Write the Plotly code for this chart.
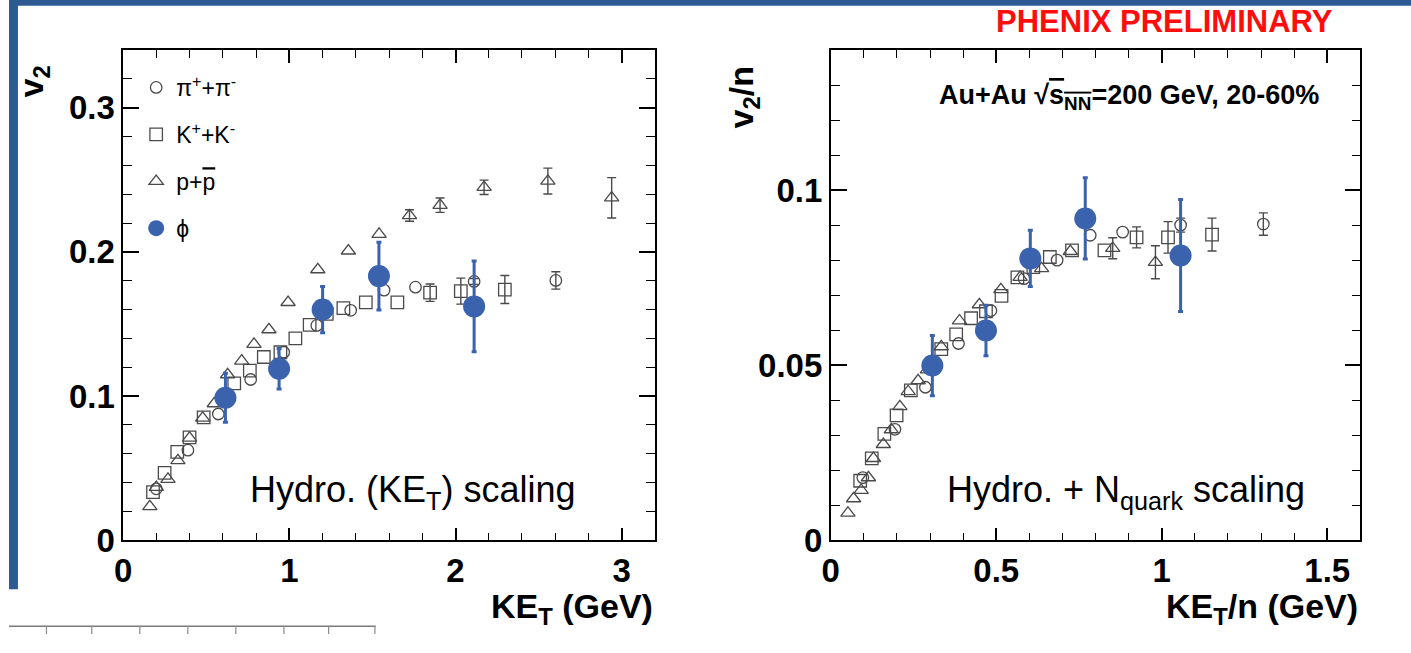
import plotly.graph_objects as go

# ---------------- Left panel data: v2 vs KE_T (GeV) ----------------
pi_ket = [0.199, 0.389, 0.572, 0.767, 0.966, 1.165, 1.369, 1.57, 1.759, 2.112, 2.604]
pi_v2 = [0.0357, 0.0625, 0.0876, 0.1115, 0.1304, 0.149, 0.1595, 0.1735, 0.1755, 0.1795, 0.1802]
pi_err = [0, 0, 0, 0, 0, 0, 0, 0, 0, 0.002, 0.006]

k_ket = [0.179, 0.249, 0.325, 0.399, 0.484, 0.668, 0.762, 0.846, 0.946, 1.036, 1.122,
         1.225, 1.325, 1.46, 1.65, 1.847, 2.032, 2.297]
k_v2 = [0.0334, 0.0468, 0.0613, 0.0714, 0.0852, 0.1088, 0.1177, 0.1271, 0.1304, 0.14,
        0.1494, 0.157, 0.161, 0.165, 0.165, 0.1717, 0.1728, 0.1739]
k_err = [0] * 15 + [0.006, 0.009, 0.0097]

p_ket = [0.16, 0.199, 0.269, 0.329, 0.399, 0.478, 0.548, 0.628, 0.713, 0.787, 0.877,
         0.992, 1.171, 1.355, 1.54, 1.723, 1.907, 2.172, 2.556, 2.94]
p_v2 = [0.0234, 0.0368, 0.0424, 0.0553, 0.0709, 0.0848, 0.0948, 0.1149, 0.1244, 0.136,
        0.1461, 0.165, 0.1877, 0.2007, 0.2123, 0.2252, 0.2324, 0.2448, 0.2491, 0.2375]
p_err = [0] * 15 + [0.004, 0.005, 0.005, 0.009, 0.014]

phi_ket = [0.615, 0.938, 1.20, 1.539, 2.112]
phi_v2 = [0.0988, 0.119, 0.160, 0.1832, 0.1622]
phi_err = [0.017, 0.014, 0.016, 0.0235, 0.0315]

# ---------------- Right panel data: v2/n vs KE_T/n (GeV) ----------------
pi_ketn = [0.097, 0.194, 0.286, 0.386, 0.484, 0.584, 0.684, 0.784, 0.882, 1.057, 1.307]
pi_v2n = [0.0179, 0.0317, 0.0437, 0.0562, 0.0656, 0.0747, 0.080, 0.0871, 0.088, 0.090, 0.0903]
pi_errn = [0] * 9 + [0.002, 0.0032]

k_ketn = [0.089, 0.124, 0.162, 0.199, 0.242, 0.334, 0.379, 0.424, 0.469, 0.516, 0.564,
          0.612, 0.662, 0.729, 0.827, 0.924, 1.019, 1.152]
k_v2n = [0.017, 0.0234, 0.0304, 0.0357, 0.0428, 0.0546, 0.0588, 0.0634, 0.0654, 0.0698,
         0.0751, 0.078, 0.0809, 0.0828, 0.0828, 0.0865, 0.0865, 0.0873]
k_errn = [0] * 15 + [0.003, 0.0045, 0.0047]

p_ketn = [0.052, 0.069, 0.092, 0.114, 0.129, 0.159, 0.183, 0.209, 0.234, 0.264, 0.292,
          0.334, 0.389, 0.449, 0.514, 0.572, 0.637, 0.724, 0.852, 0.981]
p_v2n = [0.0078, 0.0119, 0.0143, 0.0179, 0.0234, 0.0274, 0.0316, 0.0382, 0.0425, 0.0456,
         0.0487, 0.0553, 0.0627, 0.0673, 0.0716, 0.0751, 0.0776, 0.0825, 0.0834, 0.0794]
p_errn = [0] * 18 + [0.003, 0.0047]

phi_ketn = [0.307, 0.469, 0.603, 0.769, 1.057]
phi_v2n = [0.0499, 0.0599, 0.0805, 0.0919, 0.0813]
phi_errn = [0.0086, 0.0072, 0.008, 0.0116, 0.016]

species_names = ["π<sup>+</sup>+π<sup>-</sup>", "K<sup>+</sup>+K<sup>-</sup>",
                 "p+<span style='text-decoration:overline'>p</span>", "ϕ"]

W, H = 1411, 653
GRAY = "#4a4a4a"
BLUE = "#3a62ad"
FONT = "Liberation Sans, Arial, sans-serif"

fig = go.Figure()


def add_species(x, y, err, name, symbol, size, xa, ya, legend, filled=False):
    # error bars (only the points that carry a visible error)
    ex = [xi for xi, e in zip(x, err) if e > 0]
    ey = [yi for yi, e in zip(y, err) if e > 0]
    ee = [e for e in err if e > 0]
    color = BLUE if filled else GRAY
    if ex:
        fig.add_trace(go.Scatter(
            x=ex, y=ey, mode="markers", xaxis=xa, yaxis=ya, showlegend=False,
            marker=dict(size=1, color="rgba(0,0,0,0)"),
            error_y=dict(type="data", array=ee, visible=True, color=color,
                         thickness=3 if filled else 1.4, width=2.5 if filled else 4.5),
            hoverinfo="skip"))
    if filled:
        marker = dict(symbol=symbol, size=size, color=BLUE, line=dict(width=0))
    else:
        marker = dict(symbol=symbol, size=size, color=GRAY, line=dict(width=1.3, color=GRAY))
    fig.add_trace(go.Scatter(
        x=x, y=y, mode="markers", name=name, xaxis=xa, yaxis=ya,
        showlegend=legend, legendgroup=name, marker=marker))


add_species(pi_ket, pi_v2, pi_err, species_names[0], "circle-open", 11.5, "x", "y", True)
add_species(k_ket, k_v2, k_err, species_names[1], "square-open", 12.5, "x", "y", True)
add_species(p_ket, p_v2, p_err, species_names[2], "triangle-up-open", 12.5, "x", "y", True)
add_species(phi_ket, phi_v2, phi_err, species_names[3], "circle", 22, "x", "y", True, filled=True)

add_species(pi_ketn, pi_v2n, pi_errn, species_names[0], "circle-open", 11.5, "x2", "y2", False)
add_species(k_ketn, k_v2n, k_errn, species_names[1], "square-open", 12.5, "x2", "y2", False)
add_species(p_ketn, p_v2n, p_errn, species_names[2], "triangle-up-open", 12.5, "x2", "y2", False)
add_species(phi_ketn, phi_v2n, phi_errn, species_names[3], "circle", 22, "x2", "y2", False, filled=True)

tickfont = dict(family=FONT, size=33, color="black", weight="bold")


def axis_common(rng, dtick, minor_dtick, ticklen, minorlen, domain, anchor):
    return dict(range=rng, dtick=dtick, tick0=0, domain=domain, anchor=anchor,
                showgrid=False, zeroline=False, showline=True, linecolor="black",
                linewidth=1.6, mirror="allticks", ticks="inside", ticklen=ticklen,
                tickwidth=1.5, tickcolor="black", tickfont=tickfont,
                minor=dict(dtick=minor_dtick, tick0=0, ticks="inside", ticklen=minorlen,
                           tickwidth=1.3, tickcolor="black", showgrid=False))


ydom = [1 - 556.5 / H, 1 - 51.5 / H]
fig.update_layout(
    width=W, height=H,
    margin=dict(l=0, r=0, t=0, b=0),
    paper_bgcolor="white", plot_bgcolor="white",
    xaxis=axis_common([0, 3.2], 1, 0.2, 13, 8, [115 / W, 650 / W], "y"),
    yaxis=axis_common([0, 0.34], 0.1, 0.02, 16, 9, ydom, "x"),
    xaxis2=axis_common([0, 1.6], 0.5, 0.1, 13, 8, [827 / W, 1360 / W], "y2"),
    yaxis2=axis_common([0, 0.14], 0.05, 0.01, 16, 9, ydom, "x2"),
    legend=dict(x=128 / W, y=1 - 68 / H, xanchor="left", yanchor="top",
                bgcolor="rgba(0,0,0,0)", tracegroupgap=14, itemsizing="trace",
                font=dict(family=FONT, size=23, color="black")),
    showlegend=True,
)

ann = []
bold = dict(family=FONT, size=34, color="black", weight="bold")
ann.append(dict(text="v<sub>2</sub>", x=25 / W, y=1 - 84 / H, xref="paper", yref="paper",
                textangle=-90, showarrow=False, font=bold, xanchor="center", yanchor="middle"))
ann.append(dict(text="KE<sub>T</sub> (GeV)", x=650 / W, y=1 - 627 / H, xref="paper", yref="paper",
                showarrow=False, font=bold, xanchor="right", yanchor="middle"))
ann.append(dict(text="v<sub>2</sub>/n", x=739 / W, y=1 - 100 / H, xref="paper", yref="paper",
                textangle=-90, showarrow=False, font=bold, xanchor="center", yanchor="middle"))
ann.append(dict(text="KE<sub>T</sub>/n (GeV)", x=1360 / W, y=1 - 627 / H, xref="paper", yref="paper",
                showarrow=False, font=bold, xanchor="right", yanchor="middle"))
reg = dict(family=FONT, size=36, color="black")
ann.append(dict(text="Hydro. (KE<sub>T</sub>) scaling", x=407 / W, y=1 - 507 / H,
                xref="paper", yref="paper", showarrow=False, font=reg,
                xanchor="center", yanchor="middle"))
ann.append(dict(text="Hydro. + N<sub>quark</sub> scaling", x=1124 / W, y=1 - 507 / H,
                xref="paper", yref="paper", showarrow=False, font=reg,
                xanchor="center", yanchor="middle"))
ann.append(dict(text="PHENIX PRELIMINARY", x=1335 / W, y=1 - 22 / H, xref="paper", yref="paper",
                showarrow=False, font=dict(family=FONT, size=31, color="#ff0d0d", weight="bold"),
                xanchor="right", yanchor="middle"))
ann.append(dict(text="Au+Au √<span style='text-decoration:overline'>s<sub>NN</sub></span>=200 GeV, 20-60%",
                x=1320 / W, y=1 - 100 / H, xref="paper", yref="paper", showarrow=False,
                font=dict(family=FONT, size=27, color="black", weight="bold"),
                xanchor="right", yanchor="middle"))
fig.update_layout(annotations=ann)

# slide decorations: blue frame strips and a table fragment at the bottom-left
BORDER = "#2d5a93"
shapes = [
    dict(type="rect", xref="paper", yref="paper", x0=0, x1=1, y0=1 - 6 / H, y1=1,
         fillcolor=BORDER, line=dict(width=0), layer="above"),
    dict(type="rect", xref="paper", yref="paper", x0=0, x1=9 / W, y0=1 - 607 / H, y1=1,
         fillcolor=BORDER, line=dict(width=0), layer="above"),
    dict(type="line", xref="paper", yref="paper", x0=0, x1=369 / W, y0=1 - 645 / H, y1=1 - 645 / H,
         line=dict(color="#7a7a7a", width=1.5)),
]
for xv in [37.7, 83.3, 131.7, 180, 228.3, 276.7, 321.7, 368.3]:
    shapes.append(dict(type="line", xref="paper", yref="paper", x0=xv / W, x1=xv / W,
                       y0=0, y1=1 - 645 / H, line=dict(color="#8a8a8a", width=1.2)))
fig.update_layout(shapes=shapes)

fig.write_html("out.html")
